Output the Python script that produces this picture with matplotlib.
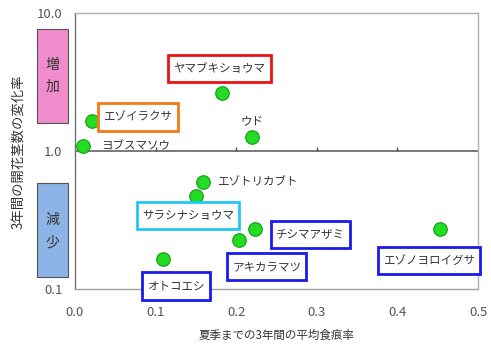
import matplotlib
matplotlib.use("Agg")
import matplotlib.pyplot as plt
from matplotlib.patches import Rectangle
from matplotlib.path import Path
import matplotlib.transforms as mtransforms

plt.rcParams['font.family'] = ['Noto Sans CJK JP', 'DejaVu Sans']

# ---- data ----
species = ["ヤマブキショウマ", "エゾイラクサ", "ヨブスマソウ", "ウド", "エゾトリカブト",
           "サラシナショウマ", "オトコエシ", "アキカラマツ", "チシマアザミ", "エゾノヨロイグサ"]
damage_rate = [0.183, 0.021, 0.010, 0.219, 0.159, 0.150, 0.109, 0.203, 0.223, 0.453]
change_rate = [2.65, 1.65, 1.09, 1.27, 0.60, 0.47, 0.165, 0.225, 0.27, 0.27]
x_ticks = [0.0, 0.1, 0.2, 0.3, 0.4, 0.5]
x_ticklabels = ["0.0", "0.1", "0.2", "0.3", "0.4", "0.5"]
y_ticks = [0.1, 1.0, 10.0]
y_ticklabels = ["0.1", "1.0", "10.0"]

# ---- layout/style for labels: (offset px x, offset px y, ha, box edge colour or None) ----
label_style = [
    (-3, 24, 'center', '#ee1111'),
    (46, 4, 'center', '#f47a16'),
    (18, 0, 'left', None),
    (0, 16, 'center', None),
    (14, 0, 'left', None),
    (-8, -19, 'center', '#22c8f4'),
    (13, -27, 'center', '#1a1aee'),
    (28, -26, 'center', '#1a1aee'),
    (56, -5, 'center', '#1a1aee'),
    (-11, -31, 'center', '#1a1aee'),
]


def rect_box(x0, y0, width, height, mutation_size):
    px = 0.45 * mutation_size
    py = 0.62 * mutation_size
    x0, y0 = x0 - px, y0 - py
    x1, y1 = x0 + width + 2 * px, y0 + height + 2 * py
    return Path([(x0, y0), (x1, y0), (x1, y1), (x0, y1), (x0, y0)],
                closed=True)


W, H = 491, 349
fig = plt.figure(figsize=(W / 100, H / 100), dpi=100)
ax = fig.add_axes([75 / W, 1 - 289 / H, (478 - 75) / W, (289 - 13) / H])
ax.set_yscale('log')
ax.set_xlim(0, 0.5)
ax.set_ylim(0.1, 10)

for s in ['top', 'right']:
    ax.spines[s].set_color('#b0b0b0')
ax.spines['bottom'].set_color('#a0a0a0')
ax.spines['left'].set_color('#707070')
for s in ax.spines.values():
    s.set_linewidth(1.0)

ax.set_xticks(x_ticks)
ax.set_xticklabels(x_ticklabels)
ax.set_yticks(y_ticks)
ax.set_yticklabels(y_ticklabels)
ax.minorticks_off()
ax.tick_params(axis='x', length=0, pad=12, labelsize=9.5, labelcolor='#555555')
ax.tick_params(axis='y', length=0, pad=9, labelsize=9.5, labelcolor='#555555')

# horizontal reference line at 1.0 with small upward ticks
ax.axhline(1.0, color='#555555', lw=1.1, zorder=2)
trans = mtransforms.blended_transform_factory(ax.transData, ax.transAxes)
ax.vlines(x_ticks[1:-1], 0.5, 0.515, transform=trans, color='#555555', lw=1.0)

ax.scatter(damage_rate, change_rate, s=95, color='#22dd22', edgecolors='#139913',
           linewidths=0.8, zorder=4)

for name, x, y, (dx, dy, ha, ec) in zip(species, damage_rate, change_rate, label_style):
    kw = dict(textcoords='offset pixels', xytext=(dx, dy), ha=ha, va='center',
              fontsize=8.3, color='#333333', zorder=5)
    if ec:
        kw['bbox'] = dict(boxstyle=rect_box, fc='white', ec=ec, lw=2.0)
    ax.annotate(name, (x, y), **kw)

ax.set_xlabel("夏季までの3年間の平均食痕率", fontsize=8.3, color='#333333', labelpad=7)
fig.text(18 / W, 1 - 152 / H, "3年間の開花茎数の変化率", rotation=90, ha='center',
         va='center', fontsize=9.6, color='#333333')

# side boxes
pink = Rectangle((37 / W, 1 - 123 / H), 31 / W, 94 / H, transform=fig.transFigure,
                 fc='#f08ccc', ec='#555555', lw=0.8)
blue = Rectangle((37 / W, 1 - 277 / H), 31 / W, 94 / H, transform=fig.transFigure,
                 fc='#8cb4e6', ec='#555555', lw=0.8)
fig.patches.extend([pink, blue])
fig.text(52.5 / W, 1 - 65 / H, "増", ha='center', va='center', fontsize=10, color='#333333')
fig.text(52.5 / W, 1 - 87 / H, "加", ha='center', va='center', fontsize=10, color='#333333')
fig.text(52.5 / W, 1 - 220 / H, "減", ha='center', va='center', fontsize=10, color='#333333')
fig.text(52.5 / W, 1 - 243 / H, "少", ha='center', va='center', fontsize=10, color='#333333')

fig.savefig("out.png", dpi=100)
